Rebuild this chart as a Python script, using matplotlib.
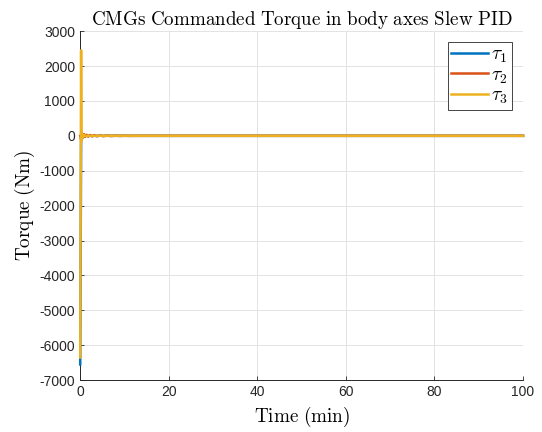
import matplotlib.pyplot as plt

plt.rcParams['font.family'] = ['Liberation Sans', 'DejaVu Sans']
plt.rcParams['mathtext.fontset'] = 'cm'
plt.rcParams['axes.unicode_minus'] = False

# commanded torque samples (time in minutes, torque in Nm)
t_min = [0.0, 0.2, 0.3, 0.4, 0.55, 0.7, 0.9, 1.1, 1.4, 1.8, 2.2, 2.7, 3.2, 3.8,
         4.5, 5.2, 6.0, 7.0, 8.0, 9.0, 10.0, 11.0, 12.0, 100.0]
tau1 = [-6550, -150, 90, -70, 50, -40, 30, -20, 15, -10, 8, -6, 5, -4,
        3, -2, 2, -1, 1, 0, 0, 0, 0, 0]
tau2 = [0, -120, 90, -60, 45, -35, 40, -25, 30, -20, 22, -15, 18, -12,
        12, -9, 8, -6, 5, -4, 3, -2, 0, 0]
tau3 = [-6350, 2450, -150, 60, -40, 25, -15, 10, -8, 5, -4, 3, -2, 1,
        1, 0, 0, 0, 0, 0, 0, 0, 0, 0]

labels = [r'$\tau_1$', r'$\tau_2$', r'$\tau_3$']
colors = ['#0072BD', '#D95319', '#EDB120']

fig, ax = plt.subplots(figsize=(5.42, 4.32), dpi=100)
fig.subplots_adjust(left=0.148, right=0.965, bottom=0.12, top=0.928)

for y, lab, c in zip([tau1, tau2, tau3], labels, colors):
    ax.plot(t_min, y, color=c, linewidth=1.8, label=lab, clip_on=False, zorder=3)

ax.set_xlim(0, 100)
ax.set_ylim(-7000, 3000)
ax.set_xticks(range(0, 101, 20))
ax.set_yticks(range(-7000, 3001, 1000))
ax.tick_params(direction='in', length=3, labelsize=10, colors='#262626', width=0.6)
ax.grid(True, color='#e3e3e3', linewidth=0.7)
ax.set_axisbelow(True)
for s in ['top', 'right']:
    ax.spines[s].set_visible(False)
for s in ['left', 'bottom']:
    ax.spines[s].set_color('#262626')
    ax.spines[s].set_linewidth(0.7)

ax.set_title(r'$\mathrm{CMGs\ Commanded\ Torque\ in\ body\ axes\ Slew\ PID}$',
             fontsize=13.7, pad=4)
ax.set_xlabel(r'$\mathrm{Time\ (min)}$', fontsize=13.8, labelpad=4)
ax.set_ylabel(r'$\mathrm{Torque\ (Nm)}$', fontsize=13.8, labelpad=2)

leg = ax.legend(loc='upper right', bbox_to_anchor=(0.975, 0.968), borderaxespad=0,
                fontsize=14, fancybox=False, framealpha=1, edgecolor='#262626',
                handlelength=1.9, handletextpad=0.15, borderpad=0.2,
                labelspacing=0.08)
leg.get_frame().set_linewidth(0.6)

fig.savefig('out.png')
